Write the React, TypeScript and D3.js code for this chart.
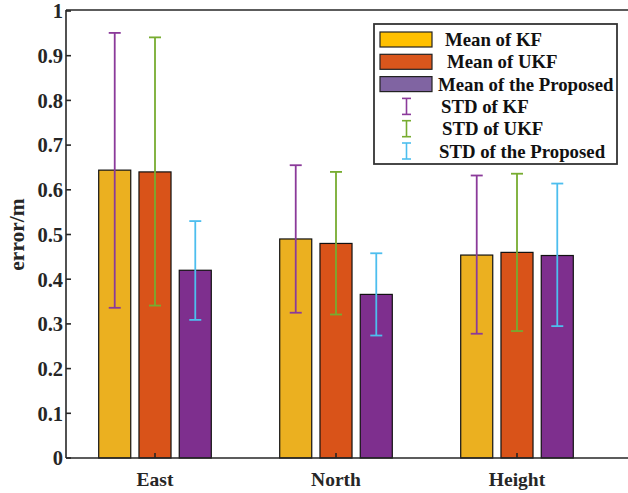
import React from "react";
import * as d3 from "d3";

const categories = ["East", "North", "Height"];
const seriesNames = ["Mean of KF", "Mean of UKF", "Mean of the Proposed"];
const stdNames = ["STD of KF", "STD of UKF", "STD of the Proposed"];
const meanKF = [0.644, 0.49, 0.454];
const meanUKF = [0.64, 0.48, 0.46];
const meanProp = [0.42, 0.366, 0.453];
const upperKF = [0.951, 0.655, 0.632];
const lowerKF = [0.336, 0.325, 0.278];
const upperUKF = [0.941, 0.64, 0.636];
const lowerUKF = [0.341, 0.321, 0.284];
const upperProp = [0.53, 0.458, 0.614];
const lowerProp = [0.309, 0.274, 0.295];
const yTicks = [0, 0.1, 0.2, 0.3, 0.4, 0.5, 0.6, 0.7, 0.8, 0.9, 1];

const barColors = ["#EBB020", "#D95319", "#7E2F8E"];
const legendColors = ["#FFC000", "#D9561C", "#8064A2"];
const errColors = ["#8B3A9A", "#77AC30", "#4DBEEE"];

const W = 628;
const H = 493;
const FONT = "'Liberation Serif', 'Times New Roman', serif";

export default function App() {
  const left = 66;
  const top = 11;
  const bottom = 458;
  const x = d3.scaleLinear().domain([1, 3]).range([155, 517]);
  const y = d3.scaleLinear().domain([0, 1]).range([bottom, top]);
  const means = [meanKF, meanUKF, meanProp];
  const uppers = [upperKF, upperUKF, upperProp];
  const lowers = [lowerKF, lowerUKF, lowerProp];
  const offset = 0.2225;
  const bw = x(1 + 0.177) - x(1);
  const axisColor = "#262626";
  const meanTextX = [445, 447, 438];
  const stdTextX = [441, 442, 439];

  return (
    <svg width={W} height={H} style={{ position: "absolute", left: 0, top: 0, background: "#fff" }}>
      <rect x={0} y={0} width={W} height={H} fill="#fff" />
      {means.map((s, si) =>
        s.map((v, ci) => {
          const cx = x(ci + 1) + (si - 1) * (x(1 + offset) - x(1));
          return (
            <rect
              key={`b${si}-${ci}`}
              x={cx - bw / 2}
              y={y(v)}
              width={bw}
              height={y(0) - y(v)}
              fill={barColors[si]}
              stroke="#111"
              strokeWidth={1.2}
            />
          );
        })
      )}
      {means.map((s, si) =>
        s.map((v, ci) => {
          const cx = x(ci + 1) + (si - 1) * (x(1 + offset) - x(1));
          const u = y(uppers[si][ci]);
          const l = y(lowers[si][ci]);
          return (
            <g key={`e${si}-${ci}`} stroke={errColors[si]} strokeWidth={1.8}>
              <line x1={cx} x2={cx} y1={u} y2={l} />
              <line x1={cx - 6} x2={cx + 6} y1={u} y2={u} />
              <line x1={cx - 6} x2={cx + 6} y1={l} y2={l} />
            </g>
          );
        })
      )}
      <g stroke={axisColor} strokeWidth={1.6} fill="none">
        <line x1={left} x2={W} y1={bottom} y2={bottom} />
        <line x1={left} x2={W} y1={top - 1} y2={top - 1} />
        <line x1={left} x2={left} y1={top - 1} y2={bottom} />
        {yTicks.map((t) => (
          <line key={`yt${t}`} x1={left} x2={left + 5} y1={y(t)} y2={y(t)} />
        ))}
        {categories.map((c, i) => (
          <line key={`xt${c}`} x1={x(i + 1)} x2={x(i + 1)} y1={bottom} y2={bottom - 5} />
        ))}
      </g>
      {yTicks.map((t) => (
        <text
          key={`yl${t}`}
          x={left - 3}
          y={y(t)}
          dy="0.36em"
          textAnchor="end"
          fontFamily={FONT}
          fontWeight="bold"
          fontSize={20.5}
          fill="#262626"
        >
          {d3.format("~g")(t)}
        </text>
      ))}
      {categories.map((c, i) => (
        <text
          key={`xl${c}`}
          x={x(i + 1)}
          y={486}
          textAnchor="middle"
          fontFamily={FONT}
          fontWeight="bold"
          fontSize={19.5}
          fill="#262626"
        >
          {c}
        </text>
      ))}
      <text
        transform={`translate(24, ${(top + bottom) / 2}) rotate(-90)`}
        textAnchor="middle"
        fontFamily={FONT}
        fontWeight="bold"
        fontSize={21.5}
        fill="#262626"
      >
        error/m
      </text>
      <g>
        <rect x={374} y={24} width={243} height={140} fill="#fff" stroke="#333" strokeWidth={1.8} />
        {seriesNames.map((n, i) => {
          const cy = 39.5 + i * 22.3;
          return (
            <g key={`lg${n}`}>
              <rect x={380} y={cy - 7.5} width={52} height={15} fill={legendColors[i]} stroke="#222" strokeWidth={1.2} />
              <text x={meanTextX[i]} y={cy} dy="0.35em" fontFamily={FONT} fontWeight="bold" fontSize={18.8} fill="#111">
                {n}
              </text>
            </g>
          );
        })}
        {stdNames.map((n, i) => {
          const cy = 39.5 + (i + 3) * 22.3;
          return (
            <g key={`ls${n}`}>
              <g stroke={errColors[i]} strokeWidth={1.6}>
                <line x1={406.5} x2={406.5} y1={cy - 8} y2={cy + 8} />
                <line x1={402} x2={411} y1={cy - 8} y2={cy - 8} />
                <line x1={402} x2={411} y1={cy + 8} y2={cy + 8} />
              </g>
              <text x={stdTextX[i]} y={cy} dy="0.35em" fontFamily={FONT} fontWeight="bold" fontSize={18.8} fill="#111">
                {n}
              </text>
            </g>
          );
        })}
      </g>
    </svg>
  );
}
